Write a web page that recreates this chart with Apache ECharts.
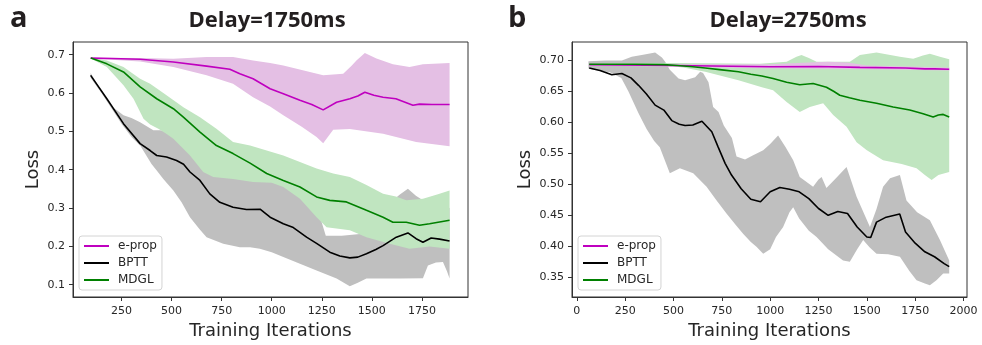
<!DOCTYPE html>
<html>
<head>
<meta charset="utf-8">
<script src="https://cdn.jsdelivr.net/npm/echarts@6/dist/echarts.min.js"></script>
<style>
  html, body { margin: 0; padding: 0; background: #fff; }
  #chart { width: 982px; height: 345px; }
</style>
</head>
<body>
<div id="chart"></div>
<script>
// ---- Panel a: Delay = 1750 ms (x = training iteration, y = loss) ----
const aEpropMean = [[96,0.691],[200,0.690],[343,0.688],[509,0.681],[675,0.670],[791,0.662],[841,0.650],[907,0.637],[992,0.611],[1058,0.598],[1141,0.581],[1200,0.570],[1257,0.556],[1324,0.576],[1390,0.585],[1430,0.592],[1465,0.602],[1510,0.594],[1556,0.589],[1620,0.585],[1705,0.568],[1738,0.571],[1800,0.570],[1888,0.570]];
const aEpropHigh = [[96,0.692],[343,0.691],[509,0.689],[675,0.694],[807,0.694],[907,0.685],[992,0.678],[1058,0.672],[1150,0.660],[1257,0.646],[1357,0.650],[1400,0.672],[1423,0.685],[1465,0.704],[1523,0.690],[1605,0.675],[1688,0.668],[1755,0.675],[1888,0.678]];
const aEpropLow  = [[96,0.690],[343,0.682],[509,0.668],[675,0.646],[807,0.624],[907,0.589],[992,0.565],[1058,0.542],[1150,0.512],[1224,0.485],[1257,0.469],[1307,0.504],[1390,0.506],[1556,0.494],[1721,0.472],[1888,0.461]];

const aBpttMean = [[96,0.646],[177,0.585],[260,0.520],[343,0.468],[393,0.450],[426,0.437],[475,0.433],[525,0.424],[560,0.414],[592,0.394],[642,0.372],[691,0.337],[741,0.315],[807,0.302],[874,0.296],[942,0.297],[992,0.276],[1058,0.259],[1108,0.249],[1174,0.224],[1224,0.208],[1290,0.185],[1340,0.175],[1390,0.170],[1430,0.172],[1473,0.181],[1520,0.192],[1556,0.202],[1622,0.224],[1680,0.235],[1721,0.220],[1755,0.211],[1796,0.222],[1838,0.219],[1888,0.214]];
const aBpttHigh = [[96,0.652],[150,0.605],[200,0.565],[227,0.555],[260,0.542],[300,0.535],[343,0.524],[409,0.503],[443,0.503],[470,0.500],[500,0.490],[600,0.460],[700,0.430],[800,0.400],[900,0.390],[1000,0.380],[1100,0.360],[1200,0.320],[1250,0.262],[1270,0.228],[1350,0.228],[1440,0.232],[1500,0.240],[1560,0.270],[1605,0.320],[1640,0.335],[1680,0.350],[1720,0.332],[1755,0.320],[1800,0.310],[1888,0.300]];
const aBpttLow  = [[96,0.640],[150,0.600],[200,0.560],[250,0.520],[300,0.485],[345,0.462],[400,0.415],[426,0.398],[460,0.375],[509,0.346],[550,0.315],[592,0.276],[640,0.245],[675,0.224],[758,0.207],[841,0.198],[892,0.198],[941,0.194],[1000,0.185],[1058,0.172],[1141,0.155],[1224,0.137],[1324,0.116],[1390,0.096],[1430,0.105],[1473,0.116],[1639,0.116],[1755,0.117],[1780,0.150],[1820,0.158],[1855,0.159],[1875,0.135],[1888,0.116]];

const aMdglMean = [[97,0.691],[177,0.676],[260,0.655],[343,0.616],[426,0.585],[509,0.559],[559,0.537],[642,0.498],[724,0.463],[807,0.442],[892,0.417],[975,0.390],[1058,0.372],[1141,0.355],[1224,0.329],[1290,0.320],[1373,0.316],[1473,0.294],[1556,0.276],[1605,0.263],[1672,0.263],[1738,0.255],[1788,0.259],[1888,0.268]];
const aMdglHigh = [[97,0.692],[177,0.685],[260,0.668],[343,0.637],[393,0.624],[475,0.594],[559,0.563],[642,0.537],[724,0.507],[807,0.472],[892,0.463],[975,0.450],[1058,0.437],[1141,0.420],[1224,0.403],[1307,0.390],[1390,0.381],[1473,0.360],[1556,0.337],[1620,0.330],[1672,0.320],[1755,0.324],[1830,0.336],[1888,0.346]];
const aMdglLow  = [[97,0.690],[177,0.668],[260,0.620],[310,0.585],[360,0.533],[393,0.518],[434,0.507],[470,0.495],[509,0.481],[592,0.437],[658,0.394],[708,0.381],[807,0.376],[907,0.368],[1000,0.366],[1058,0.355],[1141,0.324],[1224,0.276],[1274,0.250],[1390,0.242],[1473,0.224],[1589,0.207],[1688,0.194],[1788,0.200],[1888,0.194]];

// ---- Panel b: Delay = 2750 ms ----
const bEpropMean = [[64,0.6935],[500,0.692],[1000,0.690],[1250,0.6905],[1464,0.689],[1700,0.688],[1800,0.6865],[1850,0.6865],[1926,0.686]];
const bEpropHigh = [[64,0.695],[500,0.694],[1000,0.694],[1200,0.697],[1300,0.698],[1400,0.697],[1500,0.692],[1926,0.689]];
const bEpropLow  = [[64,0.692],[500,0.690],[1000,0.687],[1500,0.686],[1926,0.684]];

const bBpttMean = [[64,0.688],[120,0.684],[181,0.677],[233,0.679],[280,0.672],[319,0.660],[360,0.646],[405,0.628],[450,0.620],[491,0.603],[530,0.597],[560,0.595],[600,0.596],[647,0.602],[698,0.585],[730,0.561],[767,0.534],[800,0.515],[850,0.493],[900,0.476],[950,0.472],[1000,0.488],[1050,0.495],[1100,0.492],[1150,0.488],[1200,0.477],[1250,0.461],[1300,0.450],[1350,0.456],[1400,0.453],[1450,0.431],[1500,0.415],[1520,0.414],[1550,0.439],[1600,0.447],[1670,0.452],[1700,0.423],[1750,0.405],[1800,0.391],[1850,0.383],[1900,0.372],[1926,0.367]];
const bBpttHigh = [[60,0.699],[150,0.700],[233,0.700],[284,0.706],[350,0.710],[405,0.713],[440,0.705],[457,0.698],[481,0.685],[526,0.671],[560,0.668],[612,0.673],[638,0.682],[653,0.680],[681,0.665],[705,0.625],[733,0.617],[760,0.595],[802,0.575],[826,0.545],[870,0.540],[912,0.547],[964,0.555],[1000,0.565],[1041,0.579],[1080,0.560],[1119,0.539],[1153,0.512],[1222,0.496],[1250,0.508],[1266,0.512],[1291,0.494],[1340,0.510],[1395,0.528],[1447,0.480],[1516,0.431],[1550,0.460],[1584,0.496],[1620,0.510],[1671,0.515],[1705,0.474],[1760,0.455],[1826,0.442],[1878,0.410],[1926,0.377]];
const bBpttLow  = [[60,0.687],[120,0.683],[171,0.681],[230,0.672],[267,0.650],[319,0.615],[360,0.590],[400,0.570],[429,0.560],[460,0.535],[481,0.518],[533,0.526],[602,0.518],[671,0.496],[720,0.475],[774,0.453],[820,0.435],[860,0.420],[900,0.407],[929,0.399],[964,0.388],[1000,0.395],[1030,0.415],[1067,0.431],[1100,0.455],[1119,0.463],[1150,0.445],[1200,0.425],[1240,0.415],[1300,0.395],[1377,0.377],[1412,0.375],[1450,0.395],[1481,0.410],[1515,0.398],[1550,0.388],[1610,0.387],[1671,0.383],[1720,0.360],[1757,0.345],[1800,0.340],[1826,0.337],[1860,0.345],[1895,0.356],[1926,0.356]];

const bMdglMean = [[64,0.694],[300,0.694],[450,0.6935],[520,0.692],[600,0.690],[664,0.688],[750,0.685],[836,0.682],[900,0.678],[957,0.675],[1015,0.671],[1085,0.665],[1153,0.661],[1222,0.663],[1291,0.657],[1330,0.650],[1360,0.644],[1410,0.640],[1464,0.636],[1550,0.631],[1636,0.625],[1722,0.620],[1791,0.614],[1843,0.609],[1870,0.612],[1895,0.613],[1926,0.609]];
const bMdglHigh = [[64,0.696],[500,0.696],[947,0.695],[1085,0.698],[1136,0.706],[1162,0.709],[1200,0.704],[1240,0.698],[1412,0.698],[1464,0.709],[1550,0.713],[1671,0.706],[1740,0.703],[1790,0.708],[1826,0.711],[1878,0.706],[1926,0.702]];
const bMdglLow  = [[64,0.692],[450,0.692],[550,0.689],[664,0.682],[836,0.668],[957,0.657],[1015,0.652],[1085,0.633],[1153,0.617],[1205,0.625],[1274,0.631],[1326,0.612],[1395,0.593],[1447,0.568],[1500,0.555],[1584,0.539],[1680,0.533],[1757,0.526],[1800,0.515],[1835,0.507],[1870,0.515],[1926,0.520]];

// ---- tick labels ----
const aXTicks = [250, 500, 750, 1000, 1250, 1500, 1750];
const aYTicks = [0.1, 0.2, 0.3, 0.4, 0.5, 0.6, 0.7];
const bXTicks = [0, 250, 500, 750, 1000, 1250, 1500, 1750, 2000];
const bYTicks = [0.35, 0.40, 0.45, 0.50, 0.55, 0.60, 0.65, 0.70];

const methods = ['e-prop', 'BPTT', 'MDGL'];
const lineColors = { 'e-prop': '#bf00bf', 'BPTT': '#000000', 'MDGL': '#008000' };
const bandColors = { 'e-prop': '#e4bfe4', 'BPTT': '#bfbfbf', 'MDGL': '#c0e5c0' };

const TXT = '#262626';
const FONT = 'DejaVu Sans';

function bandSeries(name, hi, lo, idx) {
  return {
    type: 'custom',
    name: name + ' range',
    xAxisIndex: idx, yAxisIndex: idx,
    silent: true,
    animation: false,
    data: [[hi[0][0], hi[0][1]]],
    encode: { x: 0, y: 1 },
    renderItem: function (params, api) {
      const pts = hi.map(p => api.coord(p)).concat(lo.slice().reverse().map(p => api.coord(p)));
      return { type: 'polygon', shape: { points: pts }, style: { fill: bandColors[name] } };
    }
  };
}

function meanSeries(name, data, idx) {
  return {
    type: 'line', name: name,
    xAxisIndex: idx, yAxisIndex: idx,
    data: data, symbol: 'none', showSymbol: false,
    lineStyle: { color: lineColors[name], width: 1.6 },
    itemStyle: { color: lineColors[name] },
    animation: false, silent: true
  };
}

function xAxisDef(idx, min, max, ticks) {
  return {
    type: 'value', gridIndex: idx, min: min, max: max,
    name: 'Training Iterations', nameLocation: 'middle', nameGap: 25,
    nameTextStyle: { fontFamily: FONT, fontSize: 18, color: TXT },
    axisLine: { show: true, onZero: false, lineStyle: { color: '#333', width: 1 } },
    axisTick: { show: true, length: 4, customValues: ticks, lineStyle: { color: '#333' } },
    axisLabel: { customValues: ticks, margin: 9, fontFamily: FONT, fontSize: 11, color: TXT,
                 formatter: v => String(Math.round(v)) },
    splitLine: { show: false }
  };
}

function yAxisDef(idx, min, max, ticks, digits) {
  return {
    type: 'value', gridIndex: idx, min: min, max: max,
    name: 'Loss', nameLocation: 'middle', nameGap: digits === 1 ? 31 : 38,
    nameTextStyle: { fontFamily: FONT, fontSize: 18, color: TXT },
    axisLine: { show: true, onZero: false, lineStyle: { color: '#333', width: 1 } },
    axisTick: { show: true, length: 4, customValues: ticks, lineStyle: { color: '#333' } },
    axisLabel: { customValues: ticks, margin: 8, fontFamily: FONT, fontSize: 11, color: TXT,
                 formatter: v => Number(v).toFixed(digits) },
    splitLine: { show: false }
  };
}

function legendDef(left) {
  return {
    data: methods.map(n => ({ name: n, icon: 'inherit' })),
    orient: 'vertical', left: left, top: 236,
    itemWidth: 25, itemHeight: 12, itemGap: 5,
    padding: [4, 5, 4, 4],
    backgroundColor: 'rgba(255,255,255,0.85)',
    borderColor: '#d4d4d4', borderWidth: 1, borderRadius: 3,
    itemStyle: { opacity: 0 },
    textStyle: { fontFamily: FONT, fontSize: 12, color: TXT, padding: [0, 0, 0, 4] },
    selectedMode: false
  };
}

const chart = echarts.init(document.getElementById('chart'), null, { renderer: 'canvas' });

const series = [
  bandSeries('BPTT', aBpttHigh, aBpttLow, 0),
  bandSeries('MDGL', aMdglHigh, aMdglLow, 0),
  bandSeries('e-prop', aEpropHigh, aEpropLow, 0),
  meanSeries('e-prop', aEpropMean, 0),
  meanSeries('BPTT', aBpttMean, 0),
  meanSeries('MDGL', aMdglMean, 0),
  bandSeries('BPTT', bBpttHigh, bBpttLow, 1),
  bandSeries('MDGL', bMdglHigh, bMdglLow, 1),
  bandSeries('e-prop', bEpropHigh, bEpropLow, 1),
  meanSeries('e-prop', bEpropMean, 1),
  meanSeries('BPTT', bBpttMean, 1),
  meanSeries('MDGL', bMdglMean, 1)
];

chart.setOption({
  backgroundColor: '#ffffff',
  animation: false,
  grid: [
    { left: 73, top: 42, width: 395, height: 255, show: true, borderColor: '#333', borderWidth: 1, backgroundColor: 'transparent' },
    { left: 572, top: 42, width: 395, height: 255, show: true, borderColor: '#333', borderWidth: 1, backgroundColor: 'transparent' }
  ],
  xAxis: [xAxisDef(0, 8, 1980, aXTicks), xAxisDef(1, -25, 2018, bXTicks)],
  yAxis: [yAxisDef(0, 0.068, 0.733, aYTicks, 1), yAxisDef(1, 0.318, 0.730, bYTicks, 2)],
  legend: [legendDef(79), legendDef(578)],
  graphic: [
    { type: 'text', left: 10, top: 4, style: { text: 'a', font: 'bold 29px "Open Sans"', fill: '#231f20' } },
    { type: 'text', left: 508, top: 4, style: { text: 'b', font: 'bold 29px "Open Sans"', fill: '#231f20' } },
    { type: 'text', x: 267, y: 21, style: { text: 'Delay=1750ms', font: 'bold 22px "Open Sans"', fill: '#231f20', textAlign: 'center', textVerticalAlign: 'middle' } },
    { type: 'text', x: 788, y: 21, style: { text: 'Delay=2750ms', font: 'bold 22px "Open Sans"', fill: '#231f20', textAlign: 'center', textVerticalAlign: 'middle' } }
  ],
  series: series
});
</script>
</body>
</html>
